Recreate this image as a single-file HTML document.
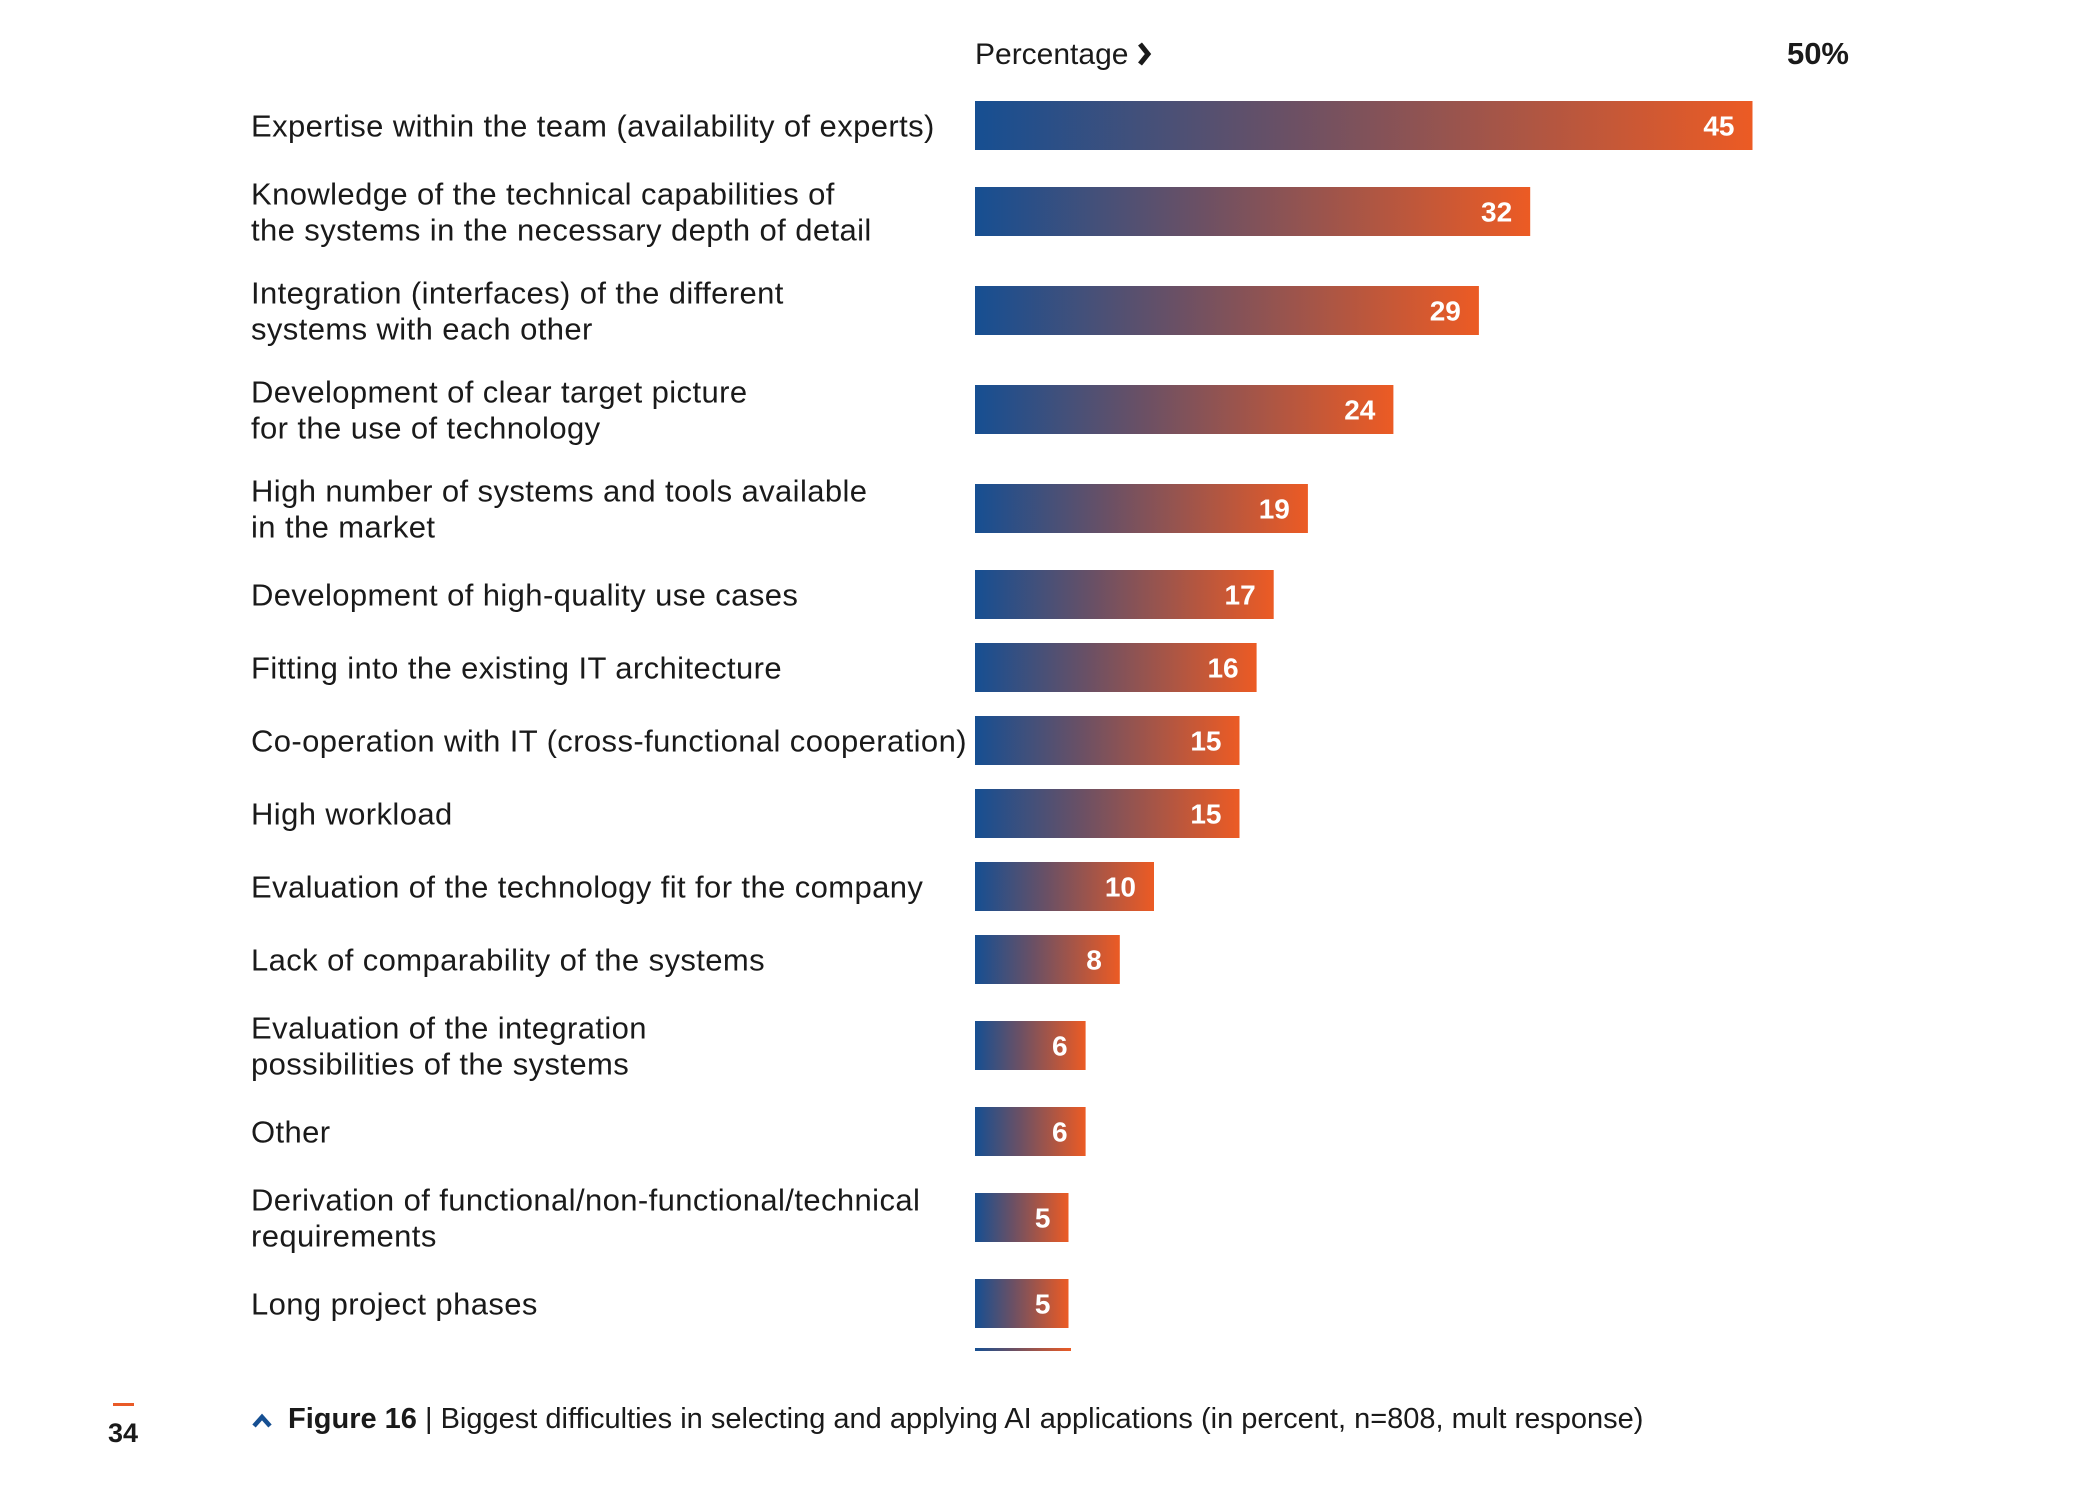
<!DOCTYPE html>
<html><head><meta charset="utf-8"><style>
html,body{margin:0;padding:0;background:#fff;}
svg{display:block;font-family:"Liberation Sans",sans-serif;}
</style></head><body>
<svg id="chart" width="2100" height="1500" viewBox="0 0 2100 1500" xmlns="http://www.w3.org/2000/svg">
<defs>
<linearGradient id="barGrad" x1="0" y1="0" x2="1" y2="0">
<stop offset="0" stop-color="#164f92"/>
<stop offset="0.4" stop-color="#6a5065"/>
<stop offset="1" stop-color="#ec5b24"/>
</linearGradient>
</defs>
<text x="975" y="64" font-size="30" fill="#1a1a1a">Percentage</text>
<path d="M1140 44 L1148 54 L1140 64" stroke="#1a1a1a" stroke-width="5" fill="none"/>
<text x="1849" y="64" font-size="31" font-weight="bold" fill="#1a1a1a" text-anchor="end">50%</text>
<g id="rows"></g>
<rect x="975" y="1348" width="96" height="3" fill="url(#barGrad)"/>
<rect x="113" y="1403" width="21" height="3" fill="#e95a27"/>
<text x="123" y="1442" font-size="27" font-weight="bold" fill="#1a1a1a" text-anchor="middle">34</text>
<path d="M254 1426 L262 1417 L270 1426" stroke="#164f92" stroke-width="4.5" fill="none"/>
<text x="288" y="1428" font-size="29" fill="#1a1a1a"><tspan font-weight="bold">Figure 16</tspan> | Biggest difficulties in selecting and applying AI applications (in percent, n=808, mult response)</text>
</svg>
<script>
const categories = [
 ["Expertise within the team (availability of experts)"],
 ["Knowledge of the technical capabilities of","the systems in the necessary depth of detail"],
 ["Integration (interfaces) of the different","systems with each other"],
 ["Development of clear target picture","for the use of technology"],
 ["High number of systems and tools available","in the market"],
 ["Development of high-quality use cases"],
 ["Fitting into the existing IT architecture"],
 ["Co-operation with IT (cross-functional cooperation)"],
 ["High workload"],
 ["Evaluation of the technology fit for the company"],
 ["Lack of comparability of the systems"],
 ["Evaluation of the integration","possibilities of the systems"],
 ["Other"],
 ["Derivation of functional/non-functional/technical","requirements"],
 ["Long project phases"]
];
const values = [45,32,29,24,19,17,16,15,15,10,8,6,6,5,5];
const valueLabels = ["45","32","29","24","19","17","16","15","15","10","8","6","6","5","5"];

const NS = "http://www.w3.org/2000/svg";
const x0 = 975;
function xScale(v){ return 8 + 17.1 * v; }
const barH = 49;
const g = document.getElementById('rows');
let y = 101;
categories.forEach((lines, i) => {
  if (i > 0) y += 73 + 13 * ((categories[i-1].length - 1) + (lines.length - 1));
  const cy = y + barH / 2;
  const w = xScale(values[i]);
  const r = document.createElementNS(NS, 'rect');
  
  
  r.setAttribute('x', x0); r.setAttribute('y', y);
  r.setAttribute('width', w); r.setAttribute('height', barH);
  r.setAttribute('fill', 'url(#barGrad)');
  g.appendChild(r);
  const vt = document.createElementNS(NS, 'text');
  
  
  vt.setAttribute('x', x0 + w - 18); vt.setAttribute('y', cy + 10);
  vt.setAttribute('text-anchor', 'end'); vt.setAttribute('font-size', '28');
  vt.setAttribute('font-weight', 'bold'); vt.setAttribute('fill', '#fff');
  vt.textContent = valueLabels[i];
  g.appendChild(vt);
  const lt = document.createElementNS(NS, 'text');
  
  
  lt.setAttribute('font-size', '31'); lt.setAttribute('fill', '#1a1a1a');
  lt.setAttribute('letter-spacing', '0.4');
  const base = cy + 11 - (lines.length - 1) * 18;
  lines.forEach((ln, j) => {
    const ts = document.createElementNS(NS, 'tspan');
    ts.setAttribute('x', 251); ts.setAttribute('y', base + j * 36);
    ts.textContent = ln;
    lt.appendChild(ts);
  });
  g.appendChild(lt);
});
</script>
</body></html>
